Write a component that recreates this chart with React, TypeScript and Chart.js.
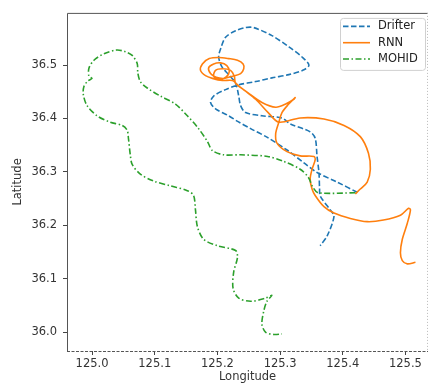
import React, { useEffect, useRef } from 'react';
import { Chart, registerables } from 'chart.js';

Chart.register(...registerables);

const xTicks = [125.0, 125.1, 125.2, 125.3, 125.4, 125.5];
const yTicks = [36.0, 36.1, 36.2, 36.3, 36.4, 36.5];
const seriesNames = ['Drifter', 'RNN', 'MOHID'];
const seriesColors = ['#1f77b4', '#ff7f0e', '#2ca02c'];

const drifterLon = [125.423, 125.391, 125.359, 125.338, 125.311, 125.279, 125.253, 125.233, 125.218, 125.197, 125.189, 125.194, 125.213, 125.234, 125.261, 125.287, 125.314, 125.338, 125.346, 125.335, 125.314, 125.287, 125.258, 125.245, 125.229, 125.213, 125.205, 125.202, 125.207, 125.218, 125.229, 125.234, 125.237, 125.245, 125.271, 125.303, 125.316, 125.348, 125.356, 125.359, 125.362, 125.363, 125.364, 125.380, 125.386, 125.375, 125.364];
const drifterLat = [36.262, 36.281, 36.299, 36.317, 36.341, 36.365, 36.381, 36.394, 36.405, 36.418, 36.430, 36.442, 36.454, 36.463, 36.469, 36.476, 36.482, 36.491, 36.500, 36.515, 36.534, 36.555, 36.570, 36.570, 36.564, 36.552, 36.530, 36.515, 36.497, 36.482, 36.466, 36.442, 36.424, 36.411, 36.405, 36.401, 36.390, 36.375, 36.363, 36.329, 36.299, 36.268, 36.255, 36.229, 36.217, 36.180, 36.162];

const rnnLon = [125.420, 125.428, 125.439, 125.444, 125.441, 125.428, 125.402, 125.370, 125.332, 125.298, 125.281, 125.261, 125.245, 125.233, 125.224, 125.208, 125.192, 125.181, 125.173, 125.176, 125.187, 125.202, 125.218, 125.232, 125.241, 125.242, 125.237, 125.224, 125.211, 125.198, 125.189, 125.186, 125.194, 125.205, 125.215, 125.219, 125.214, 125.203, 125.194, 125.197, 125.208, 125.221, 125.227, 125.229, 125.249, 125.271, 125.293, 125.309, 125.322, 125.324, 125.313, 125.303, 125.298, 125.293, 125.295, 125.311, 125.332, 125.354, 125.356, 125.351, 125.348, 125.351, 125.356, 125.370, 125.386, 125.412, 125.439, 125.465, 125.492, 125.505, 125.508, 125.503, 125.495, 125.492, 125.495, 125.503, 125.516];
const rnnLat = [36.259, 36.268, 36.281, 36.305, 36.335, 36.366, 36.387, 36.399, 36.401, 36.393, 36.411, 36.436, 36.451, 36.462, 36.471, 36.471, 36.475, 36.480, 36.490, 36.502, 36.512, 36.514, 36.512, 36.509, 36.502, 36.493, 36.484, 36.479, 36.475, 36.477, 36.484, 36.495, 36.502, 36.504, 36.499, 36.488, 36.478, 36.473, 36.479, 36.490, 36.493, 36.490, 36.479, 36.466, 36.448, 36.430, 36.421, 36.427, 36.436, 36.439, 36.426, 36.411, 36.393, 36.372, 36.354, 36.338, 36.330, 36.329, 36.323, 36.305, 36.287, 36.268, 36.256, 36.235, 36.223, 36.213, 36.207, 36.210, 36.219, 36.232, 36.229, 36.204, 36.174, 36.149, 36.134, 36.128, 36.131];

const mohidLon = [125.420, 125.361, 125.352, 125.345, 125.332, 125.305, 125.280, 125.237, 125.210, 125.192, 125.184, 125.168, 125.152, 125.133, 125.109, 125.088, 125.077, 125.073, 125.072, 125.064, 125.053, 125.039, 125.019, 125.003, 124.995, 124.995, 125.000, 124.993, 124.987, 124.986, 124.992, 125.008, 125.029, 125.048, 125.056, 125.058, 125.061, 125.064, 125.077, 125.098, 125.125, 125.152, 125.162, 125.165, 125.168, 125.178, 125.200, 125.229, 125.232, 125.226, 125.225, 125.234, 125.253, 125.277, 125.287, 125.279, 125.274, 125.271, 125.277, 125.290, 125.303];
const mohidLat = [36.261, 36.261, 36.272, 36.290, 36.305, 36.320, 36.329, 36.332, 36.332, 36.340, 36.357, 36.384, 36.405, 36.427, 36.442, 36.457, 36.469, 36.485, 36.503, 36.518, 36.525, 36.528, 36.521, 36.509, 36.494, 36.479, 36.475, 36.470, 36.460, 36.445, 36.424, 36.405, 36.393, 36.387, 36.378, 36.363, 36.332, 36.314, 36.296, 36.283, 36.274, 36.265, 36.256, 36.229, 36.198, 36.174, 36.162, 36.153, 36.140, 36.113, 36.082, 36.064, 36.058, 36.064, 36.069, 36.058, 36.040, 36.015, 36.000, 35.996, 35.997];

const FONT = "'DejaVu Sans', 'Liberation Sans', sans-serif";
const DASHES: number[][] = [[5.5, 2.5], [], [6, 2.5, 1.5, 2.5]];

export default function App() {
  const ref = useRef<HTMLCanvasElement>(null);

  useEffect(() => {
    const toPts = (xs: number[], ys: number[]) => xs.map((x, i) => ({ x, y: ys[i] }));
    const lons = [drifterLon, rnnLon, mohidLon];
    const lats = [drifterLat, rnnLat, mohidLat];

    const framePlugin = {
      id: 'frame',
      afterDraw(chart: any) {
        const { ctx, chartArea: a } = chart;
        ctx.save();
        ctx.lineWidth = 1;
        ctx.strokeStyle = '#555';
        ctx.beginPath();
        ctx.moveTo(a.left + 0.5, a.bottom);
        ctx.lineTo(a.left + 0.5, a.top + 0.5);
        ctx.lineTo(a.right, a.top + 0.5);
        ctx.stroke();
        ctx.setLineDash([3, 1.5]);
        ctx.beginPath();
        ctx.moveTo(a.left, a.bottom + 0.5);
        ctx.lineTo(a.right, a.bottom + 0.5);
        ctx.stroke();
        ctx.strokeStyle = '#bbb';
        ctx.setLineDash([1, 2]);
        ctx.beginPath();
        ctx.moveTo(a.right - 0.5, a.top);
        ctx.lineTo(a.right - 0.5, a.bottom);
        ctx.stroke();
        ctx.restore();
      },
    };

    const legendPlugin = {
      id: 'legendBox',
      afterDatasetsDraw(chart: any) {
        const { ctx, chartArea: a } = chart;
        const bw = 85, bh = 52;
        const bx = a.right - 3 - bw, by = a.top + 5;
        ctx.save();
        ctx.fillStyle = 'rgba(255,255,255,0.85)';
        ctx.strokeStyle = '#d0d0d0';
        ctx.lineWidth = 1;
        ctx.beginPath();
        if ((ctx as any).roundRect) (ctx as any).roundRect(bx + 0.5, by + 0.5, bw, bh, 3);
        else ctx.rect(bx + 0.5, by + 0.5, bw, bh);
        ctx.fill();
        ctx.stroke();
        ctx.font = `11.5px ${FONT}`;
        ctx.textBaseline = 'middle';
        ctx.textAlign = 'left';
        seriesNames.forEach((name, i) => {
          const ry = by + 8.5 + i * 16.3;
          ctx.strokeStyle = seriesColors[i];
          ctx.lineWidth = 1.6;
          ctx.setLineDash(DASHES[i]);
          ctx.beginPath();
          ctx.moveTo(bx + 3, ry);
          ctx.lineTo(bx + 30, ry);
          ctx.stroke();
          ctx.setLineDash([]);
          ctx.fillStyle = '#222';
          ctx.fillText(name, bx + 38, ry);
        });
        ctx.restore();
      },
    };

    const chart = new Chart(ref.current as HTMLCanvasElement, {
      type: 'scatter',
      data: {
        datasets: seriesNames.map((name, i) => ({
          label: name,
          data: toPts(lons[i], lats[i]),
          showLine: true,
          borderColor: seriesColors[i],
          backgroundColor: seriesColors[i],
          borderWidth: 1.6,
          borderDash: DASHES[i],
          pointRadius: 0,
          pointHoverRadius: 0,
          tension: 0.3,
          fill: false,
          order: 3 - i,
        })),
      },
      options: {
        animation: false,
        responsive: false,
        maintainAspectRatio: false,
        layout: { padding: { left: 0, top: 5, right: 2, bottom: 0 } },
        plugins: { legend: { display: false }, tooltip: { enabled: false } },
        scales: {
          x: {
            type: 'linear',
            min: 124.96,
            max: 125.536,
            afterBuildTicks: (s: any) => { s.ticks = xTicks.map((v) => ({ value: v })); },
            afterFit: (s: any) => { s.height = 34; },
            ticks: {
              font: { family: FONT, size: 11.5 },
              color: '#333',
              padding: 2,
              maxRotation: 0,
              autoSkip: false,
              callback: (v: any) => Number(v).toFixed(1),
            },
            grid: { drawOnChartArea: false, drawTicks: true, tickLength: 4, color: '#444' },
            border: { display: false },
            title: {
              display: true,
              text: 'Longitude',
              font: { family: FONT, size: 11.5 },
              color: '#333',
              padding: { top: 0, bottom: 1 },
            },
          },
          y: {
            type: 'linear',
            min: 35.965,
            max: 36.5975,
            afterBuildTicks: (s: any) => { s.ticks = yTicks.map((v) => ({ value: v })); },
            afterFit: (s: any) => { s.width = 67; },
            ticks: {
              font: { family: FONT, size: 11.5 },
              color: '#333',
              padding: 6,
              autoSkip: false,
              callback: (v: any) => Number(v).toFixed(1),
            },
            grid: { drawOnChartArea: false, drawTicks: true, tickLength: 4, color: '#444' },
            border: { display: false },
            title: {
              display: true,
              text: 'Latitude',
              font: { family: FONT, size: 11.5 },
              color: '#333',
              padding: { top: 11, bottom: 0 },
            },
          },
        },
      },
      plugins: [framePlugin, legendPlugin],
    } as any);

    return () => chart.destroy();
  }, []);

  return (
    <div style={{ position: 'fixed', left: 0, top: 0, width: 430, height: 385, background: '#fff' }}>
      <canvas ref={ref} width={430} height={385} style={{ display: 'block' }} />
    </div>
  );
}
